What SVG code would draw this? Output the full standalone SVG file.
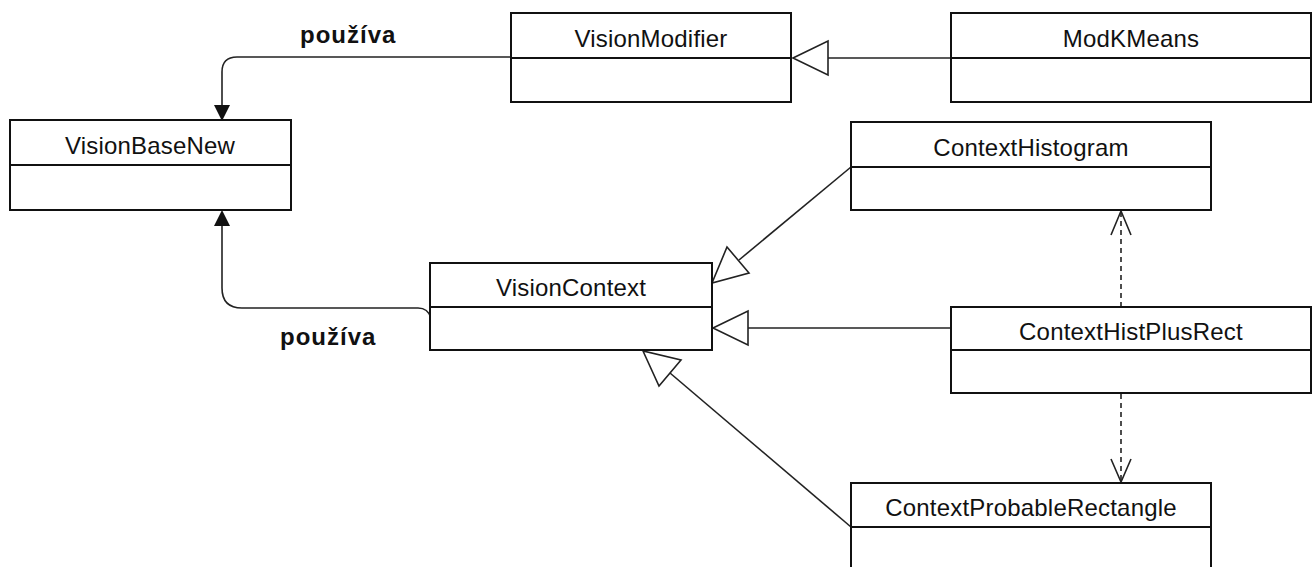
<svg xmlns="http://www.w3.org/2000/svg" width="1316" height="567" viewBox="0 0 1316 567">
  <style>
    .box { fill: #ffffff; stroke: #111111; stroke-width: 2; }
    .div { stroke: #111111; stroke-width: 2; }
    .name { font-family: "Liberation Sans", Arial, sans-serif; font-size: 24px; fill: #111111; text-anchor: middle; letter-spacing: 0.2px; }
    .label { font-family: "Liberation Sans", Arial, sans-serif; font-size: 24px; font-weight: bold; fill: #111111; letter-spacing: 1px; }
    .edge { fill: none; stroke: #222222; stroke-width: 1.6; }
    .dash { fill: none; stroke: #222222; stroke-width: 1.6; stroke-dasharray: 5 4; }
    .gen { fill: #ffffff; stroke: #222222; stroke-width: 1.6; stroke-linejoin: miter; }
    .open { fill: none; stroke: #222222; stroke-width: 1.6; }
    .solid { fill: #111111; stroke: none; }
  </style>
  <rect width="1316" height="567" fill="#ffffff"/>

  <!-- connectors -->
  <g id="connectors">
    <!-- VisionModifier uses VisionBaseNew -->
    <path class="edge" d="M511,57 L237,57 Q222,57 222,72 L222,108"/>
    <polygon class="solid" points="222,121 214,105 230,105"/>
    <text class="label" x="300" y="43">používa</text>

    <!-- VisionContext uses VisionBaseNew -->
    <path class="edge" d="M431,318 Q428,308 418,308 L242,308 Q222,308 222,288 L222,224"/>
    <polygon class="solid" points="222,210 214,226 230,226"/>
    <text class="label" x="280" y="345">používa</text>

    <!-- ModKMeans extends VisionModifier -->
    <line class="edge" x1="951" y1="58" x2="828" y2="58"/>
    <polygon class="gen" points="793,58 828,41 828,75"/>

    <!-- ContextHistogram extends VisionContext -->
    <line class="edge" x1="851" y1="167" x2="739" y2="260"/>
    <polygon class="gen" points="712,283 727,247 749,273"/>

    <!-- ContextHistPlusRect extends VisionContext -->
    <line class="edge" x1="951" y1="328" x2="748" y2="328"/>
    <polygon class="gen" points="713,328 748,311 748,345"/>

    <!-- ContextProbableRectangle extends VisionContext -->
    <line class="edge" x1="851" y1="527" x2="670" y2="373"/>
    <polygon class="gen" points="643,351 659,386 681,360"/>

    <!-- ContextHistPlusRect depends on ContextHistogram -->
    <line class="dash" x1="1121" y1="307" x2="1121" y2="212"/>
    <polyline class="open" points="1111,235 1121,211 1131,235"/>

    <!-- ContextHistPlusRect depends on ContextProbableRectangle -->
    <line class="dash" x1="1121" y1="394" x2="1121" y2="481"/>
    <polyline class="open" points="1111,459 1121,482 1131,459"/>
  </g>

  <!-- classes -->
  <g id="VisionModifier">
    <rect class="box" x="511" y="13" width="280" height="89"/>
    <line class="div" x1="511" y1="58" x2="791" y2="58"/>
    <text class="name" x="651" y="47">VisionModifier</text>
  </g>

  <g id="ModKMeans">
    <rect class="box" x="951" y="13" width="360" height="89"/>
    <line class="div" x1="951" y1="58" x2="1311" y2="58"/>
    <text class="name" x="1131" y="47">ModKMeans</text>
  </g>

  <g id="VisionBaseNew">
    <rect class="box" x="10" y="120" width="281" height="90"/>
    <line class="div" x1="10" y1="165" x2="291" y2="165"/>
    <text class="name" x="150" y="154">VisionBaseNew</text>
  </g>

  <g id="ContextHistogram">
    <rect class="box" x="851" y="122" width="360" height="88"/>
    <line class="div" x1="851" y1="167" x2="1211" y2="167"/>
    <text class="name" x="1031" y="156">ContextHistogram</text>
  </g>

  <g id="VisionContext">
    <rect class="box" x="430" y="263" width="282" height="87"/>
    <line class="div" x1="430" y1="307" x2="712" y2="307"/>
    <text class="name" x="571" y="296">VisionContext</text>
  </g>

  <g id="ContextHistPlusRect">
    <rect class="box" x="951" y="307" width="360" height="86"/>
    <line class="div" x1="951" y1="350" x2="1311" y2="350"/>
    <text class="name" x="1131" y="340">ContextHistPlusRect</text>
  </g>

  <g id="ContextProbableRectangle">
    <rect class="box" x="851" y="483" width="360" height="100"/>
    <line class="div" x1="851" y1="527" x2="1211" y2="527"/>
    <text class="name" x="1031" y="516">ContextProbableRectangle</text>
  </g>
</svg>
